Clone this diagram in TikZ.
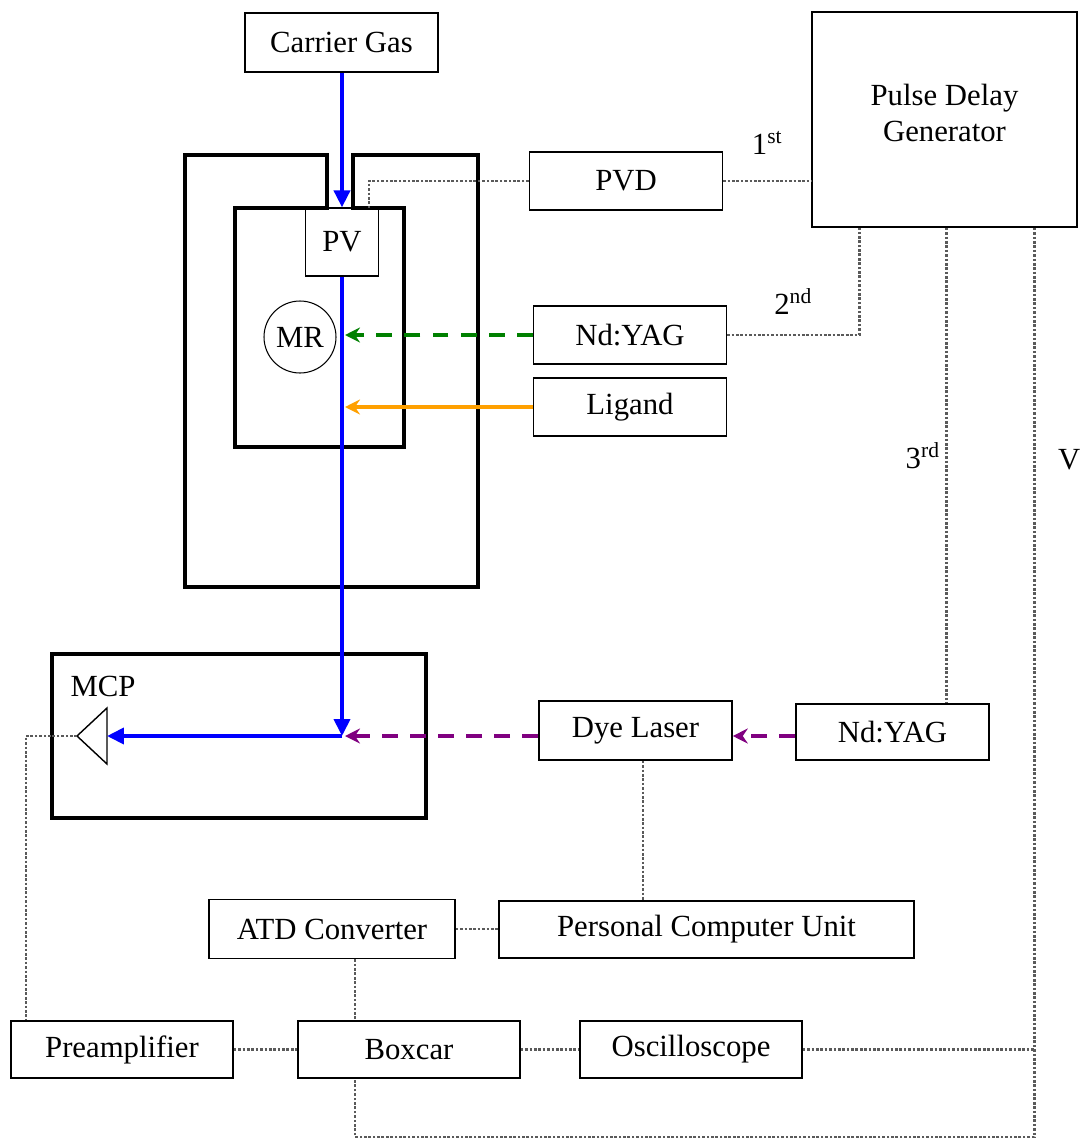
\documentclass[tikz,border=0pt]{standalone}
\usepackage{fontspec}
\setmainfont{Liberation Serif}
\usetikzlibrary{arrows.meta}
\definecolor{beamBlue}{HTML}{0000FF}
\definecolor{ablGreen}{HTML}{008000}
\definecolor{ligOrange}{HTML}{FFA000}
\definecolor{probePurple}{HTML}{800080}
\definecolor{wireGrey}{HTML}{5A5A5A}
\begin{document}
\begin{tikzpicture}[x=0.02cm, y=-0.02cm,
  box/.style={draw, line width=0.9pt, inner sep=0pt, align=center,
    font=\fontsize{17.5}{20}\selectfont},
  wall/.style={line width=2.8pt, line join=miter},
  beam/.style={draw=beamBlue, line width=2.2pt,
    -{Triangle[length=0.34cm,width=0.32cm]}},
  laser/.style={line width=1.8pt, dash pattern=on 9pt off 7pt,
    -{Stealth[length=0.3cm,width=0.3cm,inset=0.1cm]}},
  wire/.style={draw=wireGrey, line width=1.5pt, densely dotted},
  tag/.style={inner sep=0pt, font=\fontsize{17.5}{20}\selectfont}
]
\useasboundingbox (0,0) rectangle (1083,1139);
\node[box,minimum width=3.86cm,minimum height=1.18cm] (gas) at (341.5,42.5) {Carrier Gas};
\node[box,minimum width=5.3cm,minimum height=4.3cm] (pdg) at (944.5,119.5) {};
\node[tag,align=center] (pdgtag) at ([yshift=0.13cm]pdg.center) {Pulse Delay\\Generator};
\node[box,minimum width=3.86cm,minimum height=1.16cm] (pvd) at (626,181) {PVD};
\node[box,minimum width=3.86cm,minimum height=1.16cm] (yag1) at (630,335) {Nd:YAG};
\node[box,minimum width=3.86cm,minimum height=1.16cm] (lig) at (630,407) {Ligand};
\node[box,minimum width=1.46cm,minimum height=1.36cm,line width=0.7pt] (pv) at (342,242) {PV};
\node[box,circle,minimum size=1.44cm,line width=0.6pt] (mr) at (300,337) {MR};
\node[box,minimum width=3.86cm,minimum height=1.18cm] (dye) at (635.5,730.5) {Dye Laser};
\node[box,minimum width=3.86cm,minimum height=1.12cm] (yag2) at (892.5,732) {Nd:YAG};
\node[box,minimum width=4.92cm,minimum height=1.18cm] (atd) at (332,929) {ATD Converter};
\node[box,minimum width=8.3cm,minimum height=1.14cm] (pcu) at (706.5,929.5)
  {Personal Computer Unit};
\node[box,minimum width=4.44cm,minimum height=1.14cm] (pre) at (122,1049.5) {Preamplifier};
\node[box,minimum width=4.44cm,minimum height=1.14cm] (boxcar) at (409,1049.5) {Boxcar};
\node[box,minimum width=4.44cm,minimum height=1.14cm] (osc) at (691,1049.5) {Oscilloscope};
\node[draw,wall,minimum width=7.48cm,minimum height=3.28cm] (mcp) at (239,736) {};
\node[tag] (mcptag) at (103,686) {MCP};
\draw[wall] (327,155) -- (185,155) -- (185,587) -- (478,587) -- (478,155)
  -- (353,155) -- (353,208) -- (404,208) -- (404,447) -- (235,447)
  -- (235,208) -- (327,208) -- cycle;
\draw[line width=0.8pt] (77,736) -- (107,708) -- (107,764) -- cycle;
\coordinate (mcpfront) at (107,736);
\coordinate (mcptip) at (77,736);
\coordinate (axis) at (345,736);
\coordinate (turn) at (342,736);
\coordinate (pvtap) at (369,208);
\coordinate (lft) at (26,0);
\coordinate (dp) at (643,0);
\coordinate (low) at (355,1137);
\coordinate (t2) at ([xshift=0.96cm]pdg.south west);
\coordinate (t3) at ([xshift=2.7cm]pdg.south west);
\coordinate (tV) at ([xshift=4.46cm]pdg.south west);
\draw[beam] (gas.south -| pv.north) -- (pv.north);
\draw[beam] (pv.south) -- (turn);
\draw[beam] (turn) -- (mcpfront);
\draw[laser,draw=ablGreen] (yag1.west) -- (yag1.west -| axis);
\draw[draw=ligOrange,line width=1.8pt,-{Stealth[length=0.3cm,width=0.3cm,inset=0.1cm]}]
  (lig.west) -- (lig.west -| axis);
\draw[laser,draw=probePurple] (dye.west |- axis) -- (axis);
\draw[laser,draw=probePurple] (yag2.west |- axis) -- (dye.east |- axis);
\draw[wire] (pvd.west) -| (pvtap);
\draw[wire] (pvd.east) -- node[tag,above=0.5cm]{1\textsuperscript{st}} (pvd.east -| pdg.west);
\draw[wire] (yag1.east) -| node[tag,pos=0.25,above=0.38cm]{2\textsuperscript{nd}} (t2);
\draw[wire] (t3) -- node[tag,pos=0.48,left=0.1cm]{3\textsuperscript{rd}} (t3 |- yag2.north);
\draw[wire] (tV) -- node[tag,pos=0.255,right=0.45cm]{V} (tV |- low) -- (low) -- (low |- boxcar.south);
\draw[wire] (osc.east) -- (osc.east -| tV);
\draw[wire] (dye.south -| dp) -- (pcu.north -| dp);
\draw[wire] (atd.east) -- (atd.east -| pcu.west);
\draw[wire] (atd.south -| low) -- (boxcar.north -| low);
\draw[wire] (pre.east) -- (boxcar.west);
\draw[wire] (boxcar.east) -- (osc.west);
\draw[wire] (mcptip) -| (pre.north -| lft);
\end{tikzpicture}
\end{document}
